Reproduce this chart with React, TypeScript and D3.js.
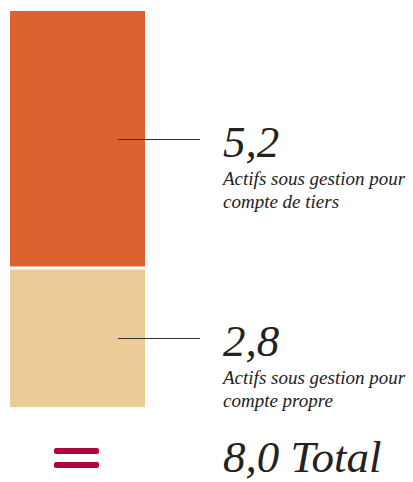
import React, { useEffect, useRef } from "react";
import * as d3 from "d3";

// values in milliards
const categories = ["Actifs sous gestion pour compte de tiers", "Actifs sous gestion pour compte propre"];
const labelLines = [
  ["Actifs sous gestion pour", "compte de tiers"],
  ["Actifs sous gestion pour", "compte propre"],
];
const values = [5.2, 2.8];
const valueLabels = ["5,2", "2,8"];
const totalLabel = "8,0 Total";
const colors = ["#dd6230", "#eccb97"];

const W = 413;
const H = 482;

export default function App() {
  const ref = useRef<SVGSVGElement | null>(null);

  useEffect(() => {
    const svg = d3.select(ref.current);
    svg.selectAll("*").remove();

    const total = d3.sum(values);
    const gap = 3;
    const top = 11;
    const bottom = 407;
    // linear scale for stacked heights (gap excluded)
    const y = d3.scaleLinear().domain([0, total]).range([0, bottom - top - gap * (values.length - 1)]);
    const x0 = 10, x1 = 145;

    let cursor = top;
    const segs = values.map((v, i) => {
      const h = y(v);
      const s = { y: cursor, h, i };
      cursor += h + gap;
      return s;
    });

    const font = "'Liberation Serif', 'Times New Roman', serif";

    const g = svg.append("g");
    g.selectAll("rect.seg")
      .data(segs)
      .enter()
      .append("rect")
      .attr("class", "seg")
      .attr("x", x0)
      .attr("width", x1 - x0)
      .attr("y", (d) => d.y)
      .attr("height", (d) => d.h)
      .attr("fill", (d) => colors[d.i]);

    const labelG = g.selectAll("g.lab").data(segs).enter().append("g").attr("class", "lab");
    // leader line at the segment centre
    const lineY = (d: any) => Math.round(d.y + d.h / 2) + 0.5;
    labelG.append("line")
      .attr("x1", 118)
      .attr("x2", 200)
      .attr("y1", lineY)
      .attr("y2", lineY)
      .attr("stroke", "#333")
      .attr("stroke-width", 1);

    labelG.append("text")
      .attr("x", 223)
      .attr("y", (d) => lineY(d) + 17)
      .attr("font-family", font)
      .attr("font-style", "italic")
      .attr("font-size", 45)
      .attr("fill", "#222")
      .text((d) => valueLabels[d.i]);

    labelG.each(function (d: any) {
      const t = d3.select(this).append("text")
        .attr("font-family", font)
        .attr("font-style", "italic")
        .attr("font-size", 19)
        .attr("fill", "#222");
      labelLines[d.i].forEach((ln, k) => {
        t.append("tspan").attr("x", 223).attr("y", lineY(d) + 45 + k * 23).text(ln);
      });
    });

    // equals sign
    const eq = svg.append("g").attr("fill", "#b0043f");
    [448, 462].forEach((yy) => {
      eq.append("rect").attr("x", 54).attr("y", yy).attr("width", 45).attr("height", 6).attr("rx", 2);
    });

    svg.append("text")
      .attr("x", 223)
      .attr("y", 472)
      .attr("font-family", font)
      .attr("font-style", "italic")
      .attr("font-size", 45)
      .attr("fill", "#222")
      .text(totalLabel);
  }, []);

  return (
    <svg
      ref={ref}
      width={W}
      height={H}
      style={{ position: "absolute", left: 0, top: 0, background: "#fff" }}
      aria-label={categories.join(", ")}
    />
  );
}
